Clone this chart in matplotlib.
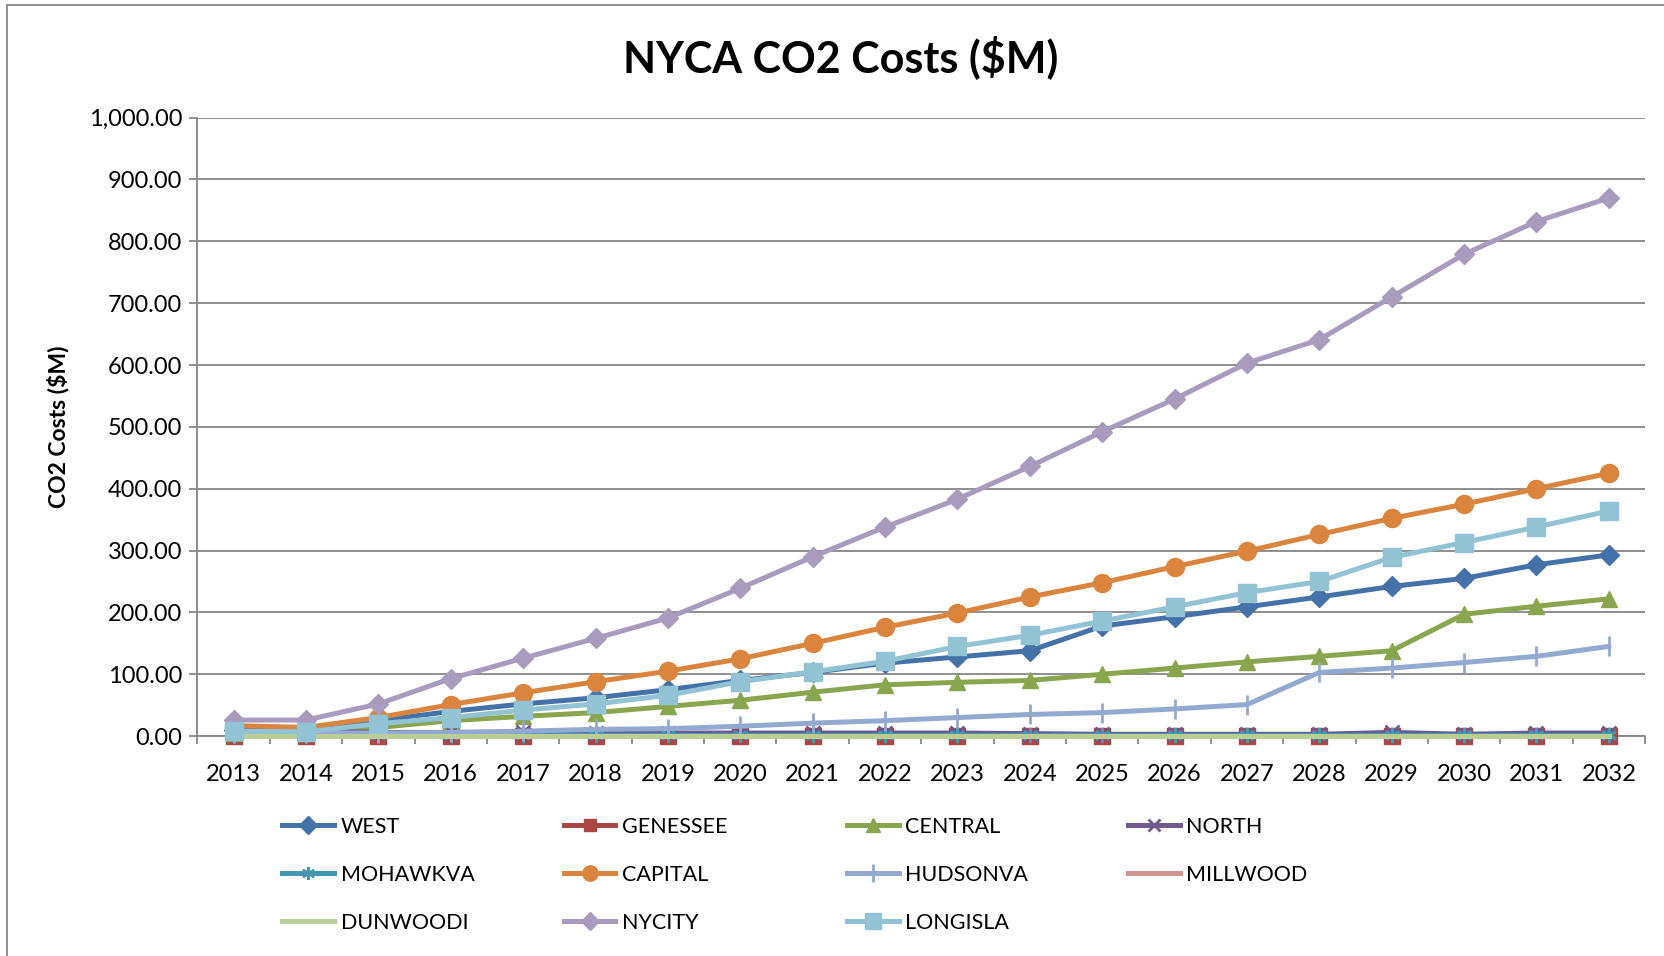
import matplotlib as mpl
mpl.use('Agg')
import matplotlib.pyplot as plt
from matplotlib.patches import Rectangle
from matplotlib.ticker import FuncFormatter, MultipleLocator, FixedLocator

plt.rcParams['font.family'] = ['Lato', 'DejaVu Sans']

years = list(range(2013, 2033))

# values ($M)
west     = [10, 8, 25, 40, 52, 62, 75, 90, 103, 118, 128, 138, 178, 193, 209, 225, 242, 255, 277, 293]
genessee = [0] * 20
central  = [5, 5, 14, 25, 32, 38, 48, 58, 71, 83, 87, 90, 100, 110, 120, 129, 138, 197, 210, 222]
north    = [8, 8, 6, 6, 6, 5, 5, 5, 5, 5, 5, 4, 3, 3, 3, 3, 6, 3, 5, 5]
mohawkva = [2] * 20
capital  = [17, 14, 30, 51, 70, 88, 105, 125, 150, 176, 199, 225, 248, 274, 299, 326, 352, 375, 400, 425]
hudsonva = [5, 5, 5, 6, 8, 11, 12, 16, 21, 25, 30, 35, 38, 44, 51, 103, 110, 119, 129, 145]
millwood = [0] * 20
dunwoodi = [0] * 20
nycity   = [26, 26, 52, 93, 126, 158, 191, 239, 290, 338, 383, 436, 492, 545, 603, 641, 710, 779, 832, 870]
longisla = [8, 7, 20, 30, 42, 52, 66, 88, 104, 121, 145, 163, 186, 209, 232, 250, 289, 313, 338, 364]

names = ['WEST', 'GENESSEE', 'CENTRAL', 'NORTH', 'MOHAWKVA', 'CAPITAL',
         'HUDSONVA', 'MILLWOOD', 'DUNWOODI', 'NYCITY', 'LONGISLA']
series = [west, genessee, central, north, mohawkva, capital,
          hudsonva, millwood, dunwoodi, nycity, longisla]
colors = ['#4472a8', '#aa4643', '#89a54e', '#71588f', '#4198af', '#db843d',
          '#93a9cf', '#d19392', '#b9cd96', '#a99bbd', '#92c3d4']
markers = ['D', 's', '^', 'x', (6, 2, 0), 'o', '|', None, None, 'D', 's']
msizes = [10.5, 11, 12, 10, 11, 13, 15, 0, 0, 10.5, 13]

fig = plt.figure(figsize=(16.65, 9.56), dpi=100)
ax = fig.add_axes([0.1186, 0.230, 0.8694, 0.647])

handles = []
for name, vals, c, m, ms in zip(names, series, colors, markers, msizes):
    mew = 2 if m in ('x', '|') or isinstance(m, tuple) else 1
    h, = ax.plot(years, vals, color=c, lw=3.6, marker=m, markersize=ms,
                 markeredgewidth=mew, markeredgecolor=c, markerfacecolor=c,
                 solid_joinstyle='round', clip_on=False, zorder=3)
    handles.append(h)

ax.set_xlim(2012.5, 2032.5)
ax.set_ylim(0, 1000)
ax.yaxis.set_major_locator(MultipleLocator(100))
ax.yaxis.set_major_formatter(FuncFormatter(lambda v, p: '{:,.2f}'.format(v)))
ax.set_xticks(years)
ax.set_xticklabels([str(y) for y in years])
ax.xaxis.set_minor_locator(FixedLocator([y - 0.5 for y in years] + [2032.5]))
ax.tick_params(axis='x', which='major', length=0, pad=20, labelsize=17)
ax.tick_params(axis='x', which='minor', length=6, color='#868686', width=1.3, direction='out')
ax.tick_params(axis='y', length=6, color='#868686', width=1.3, labelsize=17, pad=5)

ax.grid(axis='y', color='#868686', lw=1.3)
ax.set_axisbelow(True)
for s in ['top', 'right']:
    ax.spines[s].set_visible(False)
for s in ['left', 'bottom']:
    ax.spines[s].set_color('#868686')
    ax.spines[s].set_linewidth(1.3)

ax.set_ylabel('CO2 Costs ($M)', fontsize=16.5, fontweight='bold', labelpad=14)
fig.text(0.505, 0.940, 'NYCA CO2 Costs ($M)', ha='center', va='center',
         fontsize=31, fontweight='bold')

# legend, 4 columns laid out like the reference
col_x = [0.158, 0.327, 0.497, 0.666]
for col in range(4):
    idx = [i for i in range(col, len(names), 4)]
    fig.legend([handles[i] for i in idx], [names[i] for i in idx],
               loc='upper left', bbox_to_anchor=(col_x[col], 0.166),
               frameon=False, fontsize=15.5, handlelength=2.4,
               handletextpad=0.3, labelspacing=1.3, markerscale=0.85)

fig.add_artist(Rectangle((0.004, -0.05), 1.2, 1.045, transform=fig.transFigure,
                         fill=False, edgecolor='#868686', lw=1.3))

plt.savefig('out.png', dpi=100)
